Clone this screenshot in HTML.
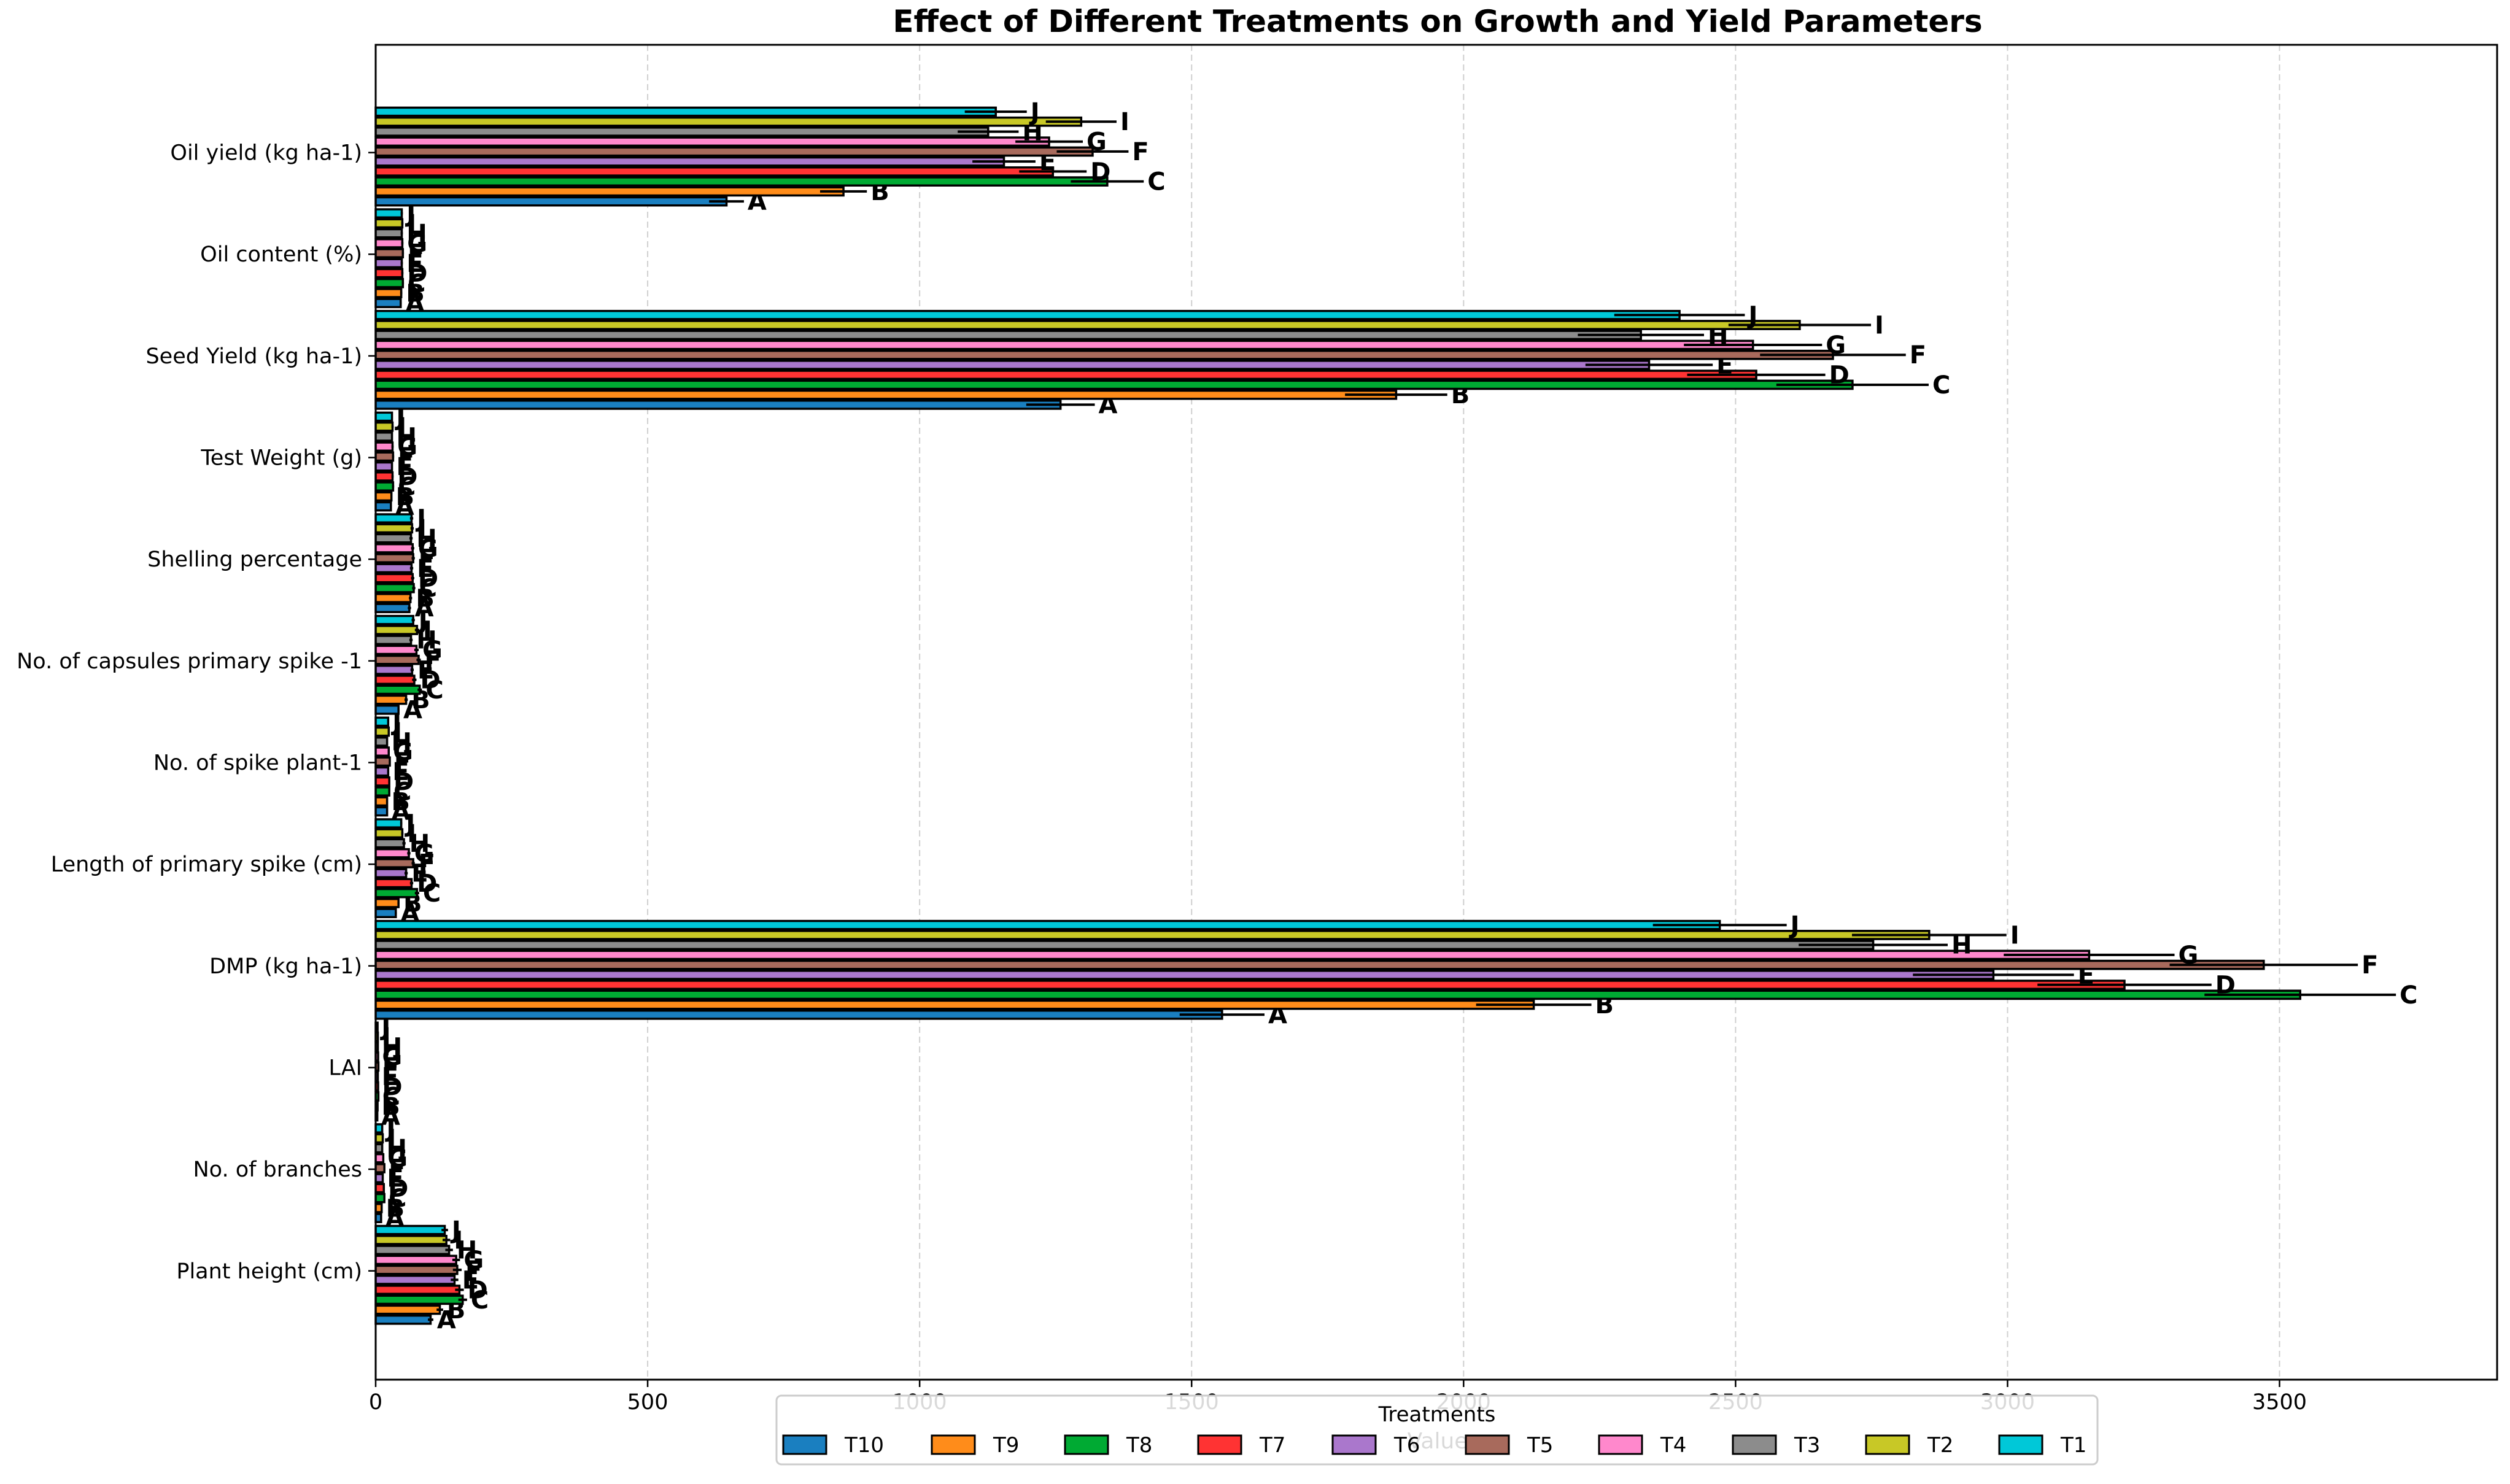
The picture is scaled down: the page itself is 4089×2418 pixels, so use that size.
<!DOCTYPE html>
<html><head><meta charset="utf-8"><style>
html,body{margin:0;padding:0;background:#fff;}
svg{display:block;font-family:"DejaVu Sans","Liberation Sans",sans-serif;}
</style></head><body>
<svg id="chart" width="4089" height="2418" viewBox="0 0 4089 2418">
<text x="2342" y="52" text-anchor="middle" font-size="50" font-weight="bold" fill="#000">Effect of Different Treatments on Growth and Yield Parameters</text>
<g id="grid"></g><g id="bars"></g><g id="axes"></g><g id="legend"></g>
</svg>
<script>
const categories = ["Plant height (cm)","No. of branches","LAI","DMP (kg ha-1)","Length of primary spike (cm)","No. of spike plant-1","No. of capsules primary spike -1","Shelling percentage","Test Weight (g)","Seed Yield (kg ha-1)","Oil content (%)","Oil yield (kg ha-1)"];
const treatments = ["T10","T9","T8","T7","T6","T5","T4","T3","T2","T1"];
const letters = ["A","B","C","D","E","F","G","H","I","J"];
const colors = ["#1a7fc0","#ff8c1a","#00aa33","#ff3333","#aa77cc","#a86a5c","#ff88cc","#8c8c8c","#c8c826","#00c8d8"];
// values[category][treatment index T10..T1]
const plantHeight = [101,118,160,154,145,150,148,135,130,127];
const branches = [10,11,16,15,13,16,14,12,13,12];
const lai = [3,3.5,5,4.5,4,5,4.5,4,4,3.5];
const dmp = [1556,2129,3538,3215,2974,3471,3150,2753,2856,2471];
const spikeLength = [37,42,76,66,56,69,61,52,49,47];
const spikePlant = [21,21,25,25,23,26,24,21,24,23];
const capsules = [42,56,81,71,67,79,75,65,76,69];
const shelling = [62,64,70,68,66,69,68,65,67,66];
const testWeight = [28,29,32,31,30,32,31,30,31,30];
const seedYield = [1259,1876,2715,2538,2341,2679,2532,2326,2618,2397];
const oilContent = [46,47,50,49,48,50,49,48,49,48];
const oilYield = [645,860,1345,1245,1155,1318,1238,1126,1297,1140];
const plantHeightErr = [5,6,8,8,7,8,7,7,7,6];
const branchesErr = [1,1,1,1,1,1,1,1,1,1];
const laiErr = [0.3,0.3,0.4,0.4,0.3,0.4,0.4,0.3,0.3,0.3];
const dmpErr = [78,106,176,160,148,173,157,137,142,123];
const spikeLengthErr = [2,2,4,3,3,3,3,3,2,2];
const spikePlantErr = [1,1,1,1,1,1,1,1,1,1];
const capsulesErr = [2,3,4,4,3,4,4,3,4,3];
const shellingErr = [3,3,3,3,3,3,3,3,3,3];
const testWeightErr = [1,1,2,2,1,2,2,1,2,1];
const seedYieldErr = [63,94,140,127,117,134,127,116,131,120];
const oilContentErr = [2,2,2,2,2,2,2,2,2,2];
const oilYieldErr = [32,43,67,62,58,66,62,56,65,57];
const xTicks = [0,500,1000,1500,2000,2500,3000,3500];

const series = [plantHeight,branches,lai,dmp,spikeLength,spikePlant,capsules,shelling,testWeight,seedYield,oilContent,oilYield];
const errs = [plantHeightErr,branchesErr,laiErr,dmpErr,spikeLengthErr,spikePlantErr,capsulesErr,shellingErr,testWeightErr,seedYieldErr,oilContentErr,oilYieldErr];

const NS="http://www.w3.org/2000/svg";
const L=612,R=4068,T=73,B=2248;
const XMAX=3900, YMIN=-1.07, YMAX=12.06;
const xs=v=>L+(v/XMAX)*(R-L);
const ys=v=>B-((v-YMIN)/(YMAX-YMIN))*(B-T);
const unit=(B-T)/(YMAX-YMIN);
function mk(tag,attrs,parent){const e=document.createElementNS(NS,tag);for(const k in attrs)e.setAttribute(k,attrs[k]);parent.appendChild(e);return e;}
const gGrid=document.getElementById('grid'),gBars=document.getElementById('bars'),gAxes=document.getElementById('axes'),gLeg=document.getElementById('legend');

xTicks.forEach(t=>{
  const ln=mk('line',{x1:xs(t),x2:xs(t),y1:T,y2:B,stroke:'#d0d0d0','stroke-width':2,'stroke-dasharray':'10,6'},gGrid);
  
  
  const tk=mk('line',{x1:xs(t),x2:xs(t),y1:B,y2:B+12,stroke:'#000','stroke-width':2.5},gAxes);
  
  
  const tx=mk('text',{x:xs(t),y:B+48,'text-anchor':'middle','font-size':35,fill:'#000'},gAxes);
  tx.textContent=t;
  
  
});

categories.forEach((c,ci)=>{
  const yc=ys(ci);
  const tk=mk('line',{x1:L-12,x2:L,y1:yc,y2:yc,stroke:'#000','stroke-width':2.5},gAxes);
  
  
  const tx=mk('text',{x:L-22,y:yc+12,'text-anchor':'end','font-size':35,fill:'#000'},gAxes);
  tx.textContent=c;
  
  
  series[ci].forEach((v,ti)=>{
    const off=0.48-ti*0.098;
    const cy=ys(ci-off);
    const h=0.098*unit;
    const r=mk('rect',{x:xs(0),y:cy-h/2+1.5,width:xs(v)-xs(0),height:h-3,fill:colors[ti],stroke:'#000','stroke-width':3.5},gBars);
    
    
    const e=errs[ci][ti];
    const el=mk('line',{x1:xs(v-e),x2:xs(v+e),y1:cy,y2:cy,stroke:'#000','stroke-width':4},gBars);
    
    
    const lt=mk('text',{x:xs(v+e)+6,y:cy+14,'font-size':40,'font-weight':'bold',fill:'#000'},gBars);
    lt.textContent=letters[ti];
    
    
  });
});

const frame=mk('rect',{x:L,y:T,width:R-L,height:B-T,fill:'none',stroke:'#000','stroke-width':3},gAxes);


const xl=mk('text',{x:2342,y:2360,'text-anchor':'middle','font-size':36,fill:'#000'},gAxes);
xl.textContent='Value';



const lb=mk('rect',{x:1265,y:2274,width:2152,height:112,rx:8,fill:'#fff','fill-opacity':0.85,stroke:'#cccccc','stroke-width':3},gLeg);


const lt=mk('text',{x:2341,y:2316,'text-anchor':'middle','font-size':34,fill:'#000'},gLeg);
lt.textContent='Treatments';


const legX=[1276,1518,1735,1952,2171,2388,2605,2823,3040,3257];
treatments.forEach((t,i)=>{
  const g=mk('g',{},gLeg);
  
  
  mk('rect',{x:legX[i],y:2339,width:70,height:30,fill:colors[i],stroke:'#000','stroke-width':3},g);
  const tx=mk('text',{x:legX[i]+100,y:2366,'font-size':34,fill:'#000'},g);
  tx.textContent=t;
});
</script>
</body></html>
